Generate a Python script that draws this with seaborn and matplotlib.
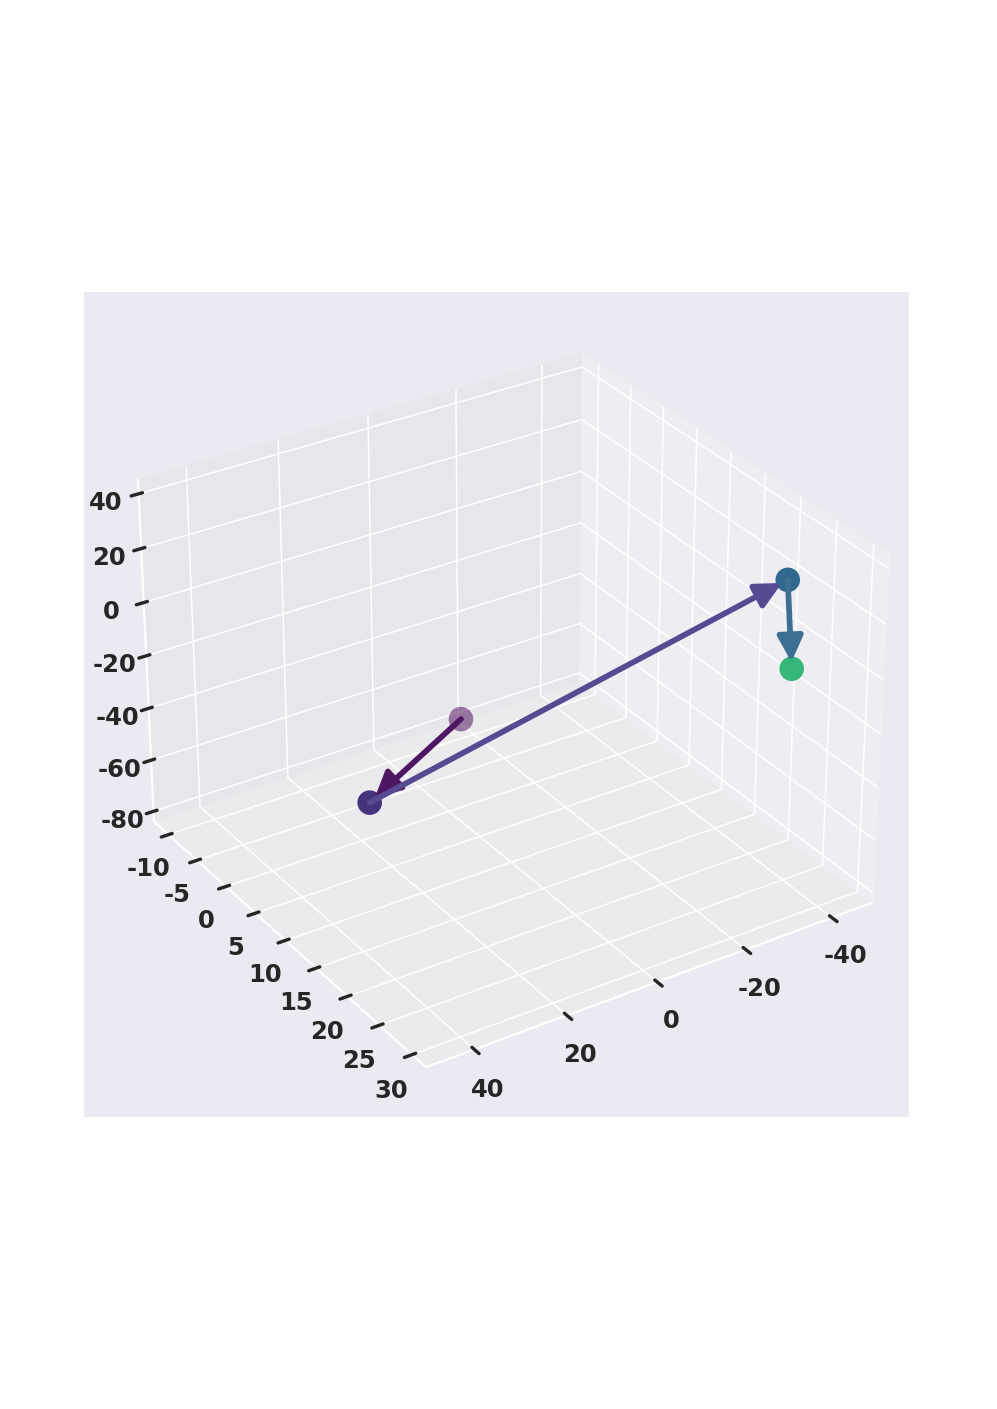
import matplotlib
matplotlib.use("Agg")
import matplotlib.pyplot as plt
import seaborn as sns
from matplotlib.colors import to_rgba
from matplotlib.patches import FancyArrowPatch
from mpl_toolkits.mplot3d import proj3d

sns.set_theme(style="darkgrid", rc={"axes.unicode_minus": False, "grid.linewidth": 0.9})

# points in visiting order
xs = [41, 12.3, -48, -48]
ys = [31.1, -4.3, 19.5, 20.5]
zs = [33.3, -82, 14.6, -16.6]
colors = ["#440154", "#46337e", "#31688e", "#35b779"]
point_alpha = [0.5, 1, 1, 1]
arrow_colors = ["#4f1763", "#574a92", "#3d6f92"]
x_ticks = [-40, -20, 0, 20, 40]
y_ticks = [-10, -5, 0, 5, 10, 15, 20, 25, 30]
z_ticks = [-80, -60, -40, -20, 0, 20, 40]


class Arrow3D(FancyArrowPatch):
    def __init__(self, x, y, z, *args, **kwargs):
        super().__init__((0, 0), (0, 0), *args, **kwargs)
        self._xyz = x, y, z

    def do_3d_projection(self, renderer=None):
        x2, y2, _ = proj3d.proj_transform(*self._xyz, self.axes.get_proj())
        self.set_positions((x2[0], y2[0]), (x2[1], y2[1]))
        return 0


fig = plt.figure(figsize=(8.27, 11.69), dpi=120.6)
ax = fig.add_axes([84 / 997, 1 - 1117.5 / 1410, 825 / 997, 825 / 1410], projection="3d")
ax.view_init(elev=30, azim=57)
point_colors = [to_rgba(c, a) for c, a in zip(colors, point_alpha)]
ax.scatter(xs, ys, zs, c=point_colors, s=215, linewidths=0, depthshade=False)
ax.set_xlim(-49.5, 50.3)
ax.set_ylim(-12.6, 32.1)
ax.set_zlim(-84, 45)
ax.set_xticks(x_ticks)
ax.set_yticks(y_ticks)
ax.set_zticks(z_ticks)
for lab in ax.get_xticklabels() + ax.get_yticklabels() + ax.get_zticklabels():
    lab.set_fontweight("bold")
    lab.set_fontsize(14.5)
for axis in [ax.xaxis, ax.yaxis, ax.zaxis]:
    axis._axinfo["tick"]["linewidth"] = {True: 2, False: 2}
for i in range(3):
    ax.add_artist(Arrow3D(xs[i:i + 2], ys[i:i + 2], zs[i:i + 2], mutation_scale=32, lw=3.4,
                          arrowstyle="-|>", color=arrow_colors[i], shrinkA=0, shrinkB=4))
fig.savefig("out.png", dpi=120.6)
